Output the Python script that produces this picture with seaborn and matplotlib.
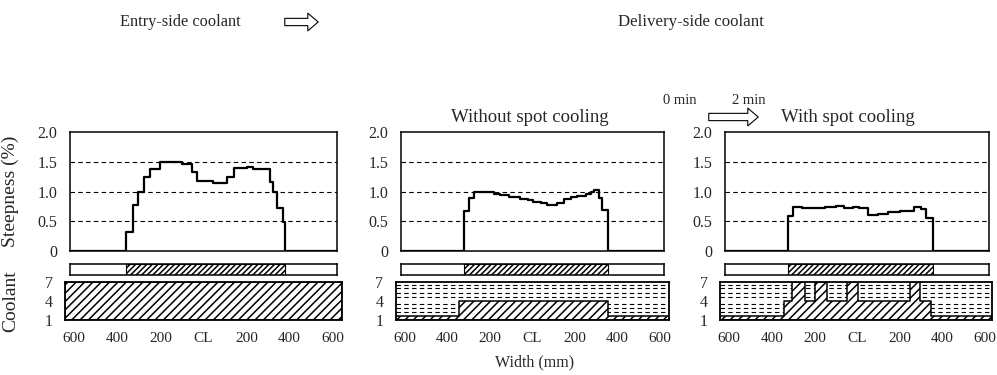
import matplotlib
matplotlib.use("Agg")
import matplotlib.pyplot as plt
import seaborn as sns
import pandas as pd
from matplotlib.patches import FancyArrowPatch

# steepness profiles: width position (mm, CL = 0) where each step starts, and step value (%)
entry_x = [-620, -360, -327, -305, -277, -248, -202, -101, -55, -32, 46, 108, 142, 200, 231, 309, 323, 340, 369, 378, 620]
entry_y = [0, 0.32, 0.77, 1.0, 1.24, 1.37, 1.50, 1.46, 1.33, 1.18, 1.14, 1.25, 1.39, 1.42, 1.38, 1.16, 1.0, 0.72, 0.49, 0, 0]

nospot_x = [-620, -325, -300, -276, -210, -180, -154, -110, -59, -20, 3, 40, 68, 100, 116, 147, 180, 211, 250, 275, 290, 314, 330, 354, 620]
nospot_y = [0, 0.68, 0.89, 1.0, 0.99, 0.96, 0.94, 0.91, 0.88, 0.85, 0.83, 0.80, 0.78, 0.78, 0.81, 0.87, 0.90, 0.93, 0.96, 0.99, 1.02, 0.89, 0.69, 0, 0]

spot_x = [-620, -324, -301, -260, -200, -150, -100, -60, -20, 10, 52, 99, 146, 200, 247, 270, 300, 325, 356, 620]
spot_y = [0, 0.58, 0.74, 0.73, 0.72, 0.74, 0.75, 0.73, 0.745, 0.72, 0.61, 0.63, 0.66, 0.67, 0.68, 0.745, 0.71, 0.56, 0, 0]

# strip width (hatched part of the bar under each profile)
strip_spans = [(-360, 378), (-325, 354), (-324, 356)]

# coolant pattern: zone edges (mm) and hatched level per zone
entry_edges = [-620, 620]
entry_levels = [7]
nospot_edges = [-620, -348, 354, 620]
nospot_levels = [1.6, 4, 1.6]
spot_edges = [-620, -345, -305, -246, -197, -142, -49, 5, 251, 298, 348, 620]
spot_levels = [1.6, 4, 7, 4, 7, 4, 7, 4, 7, 4, 1.6]
dash_levels = [2.2, 2.9, 3.5, 4.6, 5.3, 6.0, 6.6]

width_ticks = [-600, -400, -200, 0, 200, 400, 600]
width_labels = ["600", "400", "200", "CL", "200", "400", "600"]

sns.set_theme(style="white")
plt.rcParams["font.family"] = ["Liberation Serif", "DejaVu Serif"]
plt.rcParams["axes.edgecolor"] = "black"
plt.rcParams["hatch.linewidth"] = 1.1

W, H = 997, 375
fig = plt.figure(figsize=(W / 100, H / 100), dpi=100)


def box(x, y, w, h):
    return [x / W, 1 - (y + h) / H, w / W, h / H]


panels = [
    (70, 267, entry_x, entry_y, strip_spans[0], entry_edges, entry_levels),
    (401, 263, nospot_x, nospot_y, strip_spans[1], nospot_edges, nospot_levels),
    (725, 264, spot_x, spot_y, strip_spans[2], spot_edges, spot_levels),
]

for i, (left, width, px, py, span, edges, levels) in enumerate(panels):
    # steepness profile
    ax = fig.add_axes(box(left, 132, width, 119))
    df = pd.DataFrame({"x": px, "y": py})
    sns.lineplot(data=df, x="x", y="y", ax=ax, drawstyle="steps-post",
                 color="black", lw=1.6, estimator=None, sort=False)
    ax.set_xlim(-620, 620)
    ax.set_ylim(0, 2.0)
    ax.set_yticks([0, 0.5, 1.0, 1.5, 2.0])
    ax.set_yticklabels(["0", "0.5", "1.0", "1.5", "2.0"], fontsize=11.5)
    ax.set_xticks([])
    ax.set_xlabel("")
    ax.set_ylabel("")
    for lv in [0.5, 1.0, 1.5]:
        ax.axhline(lv, color="black", lw=0.8, ls=(0, (4, 3)), zorder=0)
    for s in ax.spines.values():
        s.set_linewidth(1.1)
    ax.tick_params(axis="y", pad=3)
    if i == 0:
        ax.set_ylabel("Steepness (%)", fontsize=14)
        ax.yaxis.set_label_coords(-0.19, 0.5)

    # strip bar
    sx = fig.add_axes(box(left, 264, width, 11))
    sx.set_xlim(-620, 620)
    sx.set_ylim(0, 1)
    sx.axvspan(span[0], span[1], facecolor="white", edgecolor="black",
               hatch="//////", lw=0.8)
    sx.set_xticks([])
    sx.set_yticks([])
    for s in sx.spines.values():
        s.set_linewidth(1.1)

    # coolant pattern
    pad_r = 3 if i == 2 else 5
    cx = fig.add_axes(box(left - 5, 282, width + 5 + pad_r, 38))
    scale = width / 1240
    cx.set_xlim(-620 - 5 / scale, 620 + pad_r / scale)
    cx.set_ylim(1, 7)
    lo, hi = cx.get_xlim()
    cx.hlines(dash_levels, lo, hi, colors="black", lw=0.8,
              linestyles=(0, (4, 3)), zorder=1)
    cx.fill_between([lo] + edges[1:-1] + [hi], levels + [levels[-1]], 1,
                    step="post", facecolor="white", edgecolor="black",
                    hatch="////", lw=1.1, zorder=2)
    cx.set_yticks([1, 4, 7])
    cx.set_yticklabels(["1", "4", "7"], fontsize=11.5)
    cx.set_xticks(width_ticks)
    cx.set_xticklabels(width_labels, fontsize=11)
    cx.tick_params(axis="y", pad=3)
    cx.tick_params(axis="x", pad=3)
    for s in cx.spines.values():
        s.set_linewidth(1.3)
    if i == 0:
        cx.set_ylabel("Coolant", fontsize=14)
        cx.yaxis.set_label_coords(-0.165, 0.5)


def hollow_arrow(x0, x1, y):
    arr = FancyArrowPatch((x0 / W, 1 - y / H), (x1 / W, 1 - y / H),
                          transform=fig.transFigure,
                          arrowstyle="simple,head_length=1.0,head_width=1.7,tail_width=0.7",
                          mutation_scale=7.5, fc="white", ec="black", lw=0.8)
    fig.add_artist(arr)


fig.text(180 / W, 1 - 22 / H, "Entry-side coolant", ha="center", va="center", fontsize=11.8)
hollow_arrow(282, 321, 22)
fig.text(691 / W, 1 - 22 / H, "Delivery-side coolant", ha="center", va="center", fontsize=12.2)
fig.text(680 / W, 1 - 100 / H, "0 min", ha="center", va="center", fontsize=10.5)
fig.text(749 / W, 1 - 100 / H, "2 min", ha="center", va="center", fontsize=10.5)
hollow_arrow(706, 761, 117)
fig.text(530 / W, 1 - 118 / H, "Without spot cooling", ha="center", va="center", fontsize=13.5)
fig.text(848 / W, 1 - 118 / H, "With spot cooling", ha="center", va="center", fontsize=13.5)
fig.text(535 / W, 1 - 362 / H, "Width (mm)", ha="center", va="center", fontsize=11.5)

fig.savefig("out.png", dpi=100, facecolor="white")
